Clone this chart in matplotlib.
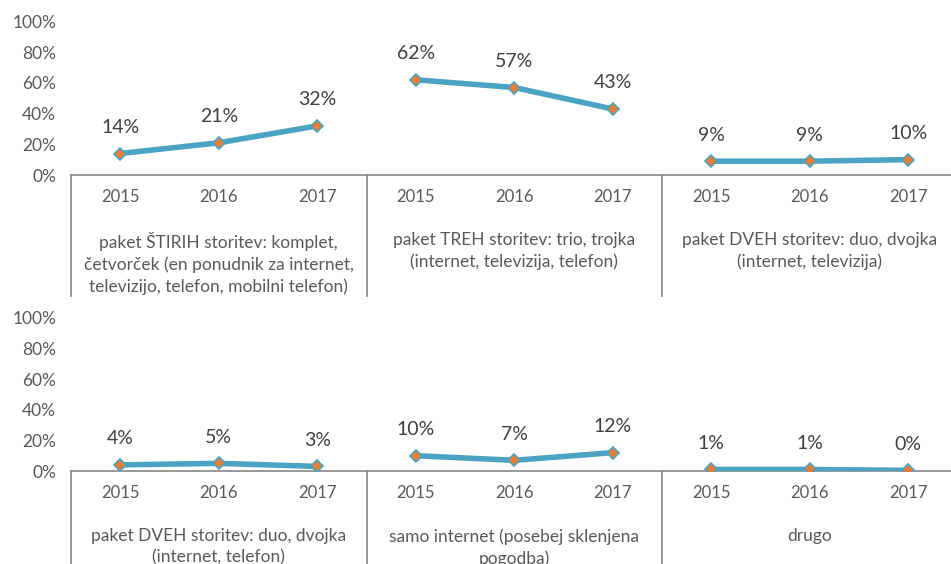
import matplotlib.pyplot as plt
from matplotlib.transforms import blended_transform_factory

# --- data ---
years = ["2015", "2016", "2017"]

top_groups = [
    "paket ŠTIRIH storitev: komplet,\nčetvorček (en ponudnik za internet,\ntelevizijo, telefon, mobilni telefon)",
    "paket TREH storitev: trio, trojka\n(internet, televizija, telefon)",
    "paket DVEH storitev: duo, dvojka\n(internet, televizija)",
]
top_values = [[14, 21, 32], [62, 57, 43], [9, 9, 10]]

bottom_groups = [
    "paket DVEH storitev: duo, dvojka\n(internet, telefon)",
    "samo internet (posebej sklenjena\npogodba)",
    "drugo",
]
bottom_values = [[4, 5, 3], [10, 7, 12], [1, 1, 0.4]]

y_ticks = [0, 20, 40, 60, 80, 100]

# --- style ---
FONT = "Lato"
TEXT_GRAY = "#595959"
LABEL_GRAY = "#404040"
AXIS_GRAY = "#868686"
LINE_BLUE = "#4BA3C3"
MARKER_ORANGE = "#ED7D31"

plt.rcParams["font.family"] = [FONT, "DejaVu Sans"]

W, H = 951, 564
fig = plt.figure(figsize=(W / 100, H / 100), dpi=100)

PX = 0.72  # points per pixel at 100 dpi
slot = 98.5


def draw_panel(ax, groups, values, divider_depth):
    for gi, vals in enumerate(values):
        xs = [gi * 3 + i for i in range(len(vals))]
        ax.plot(xs, vals, color=LINE_BLUE, linewidth=4.0, solid_capstyle="round",
                marker="D", markersize=6.5, markerfacecolor=MARKER_ORANGE,
                markeredgecolor=LINE_BLUE, markeredgewidth=1.2, zorder=3)
        for x, v in zip(xs, vals):
            ax.annotate(f"{round(v)}%", (x, v), xytext=(0, 26 * PX), textcoords="offset points",
                        ha="center", va="center", fontsize=14, color=LABEL_GRAY)
        for i, x in enumerate(xs):
            ax.annotate(years[i], (x, 0), xycoords=("data", "axes fraction"),
                        xytext=(0, -22 * PX), textcoords="offset points",
                        ha="center", va="center", fontsize=12, color=TEXT_GRAY,
                        annotation_clip=False)
        ax.annotate(groups[gi], (gi * 3 + 1, 0), xycoords=("data", "axes fraction"),
                    xytext=(0, -57 * PX), textcoords="offset points",
                    ha="center", va="top", fontsize=12.5, color=TEXT_GRAY,
                    linespacing=1.4, annotation_clip=False)

    # category dividers below the axis
    trans = blended_transform_factory(ax.transData, ax.transAxes)
    for d in [-0.5, 2.5, 5.5, 8.5]:
        ax.plot([d, d], [0, -divider_depth], color=AXIS_GRAY, linewidth=1.2,
                transform=trans, clip_on=False)

    ax.set_xlim(-0.5, 8.5)
    ax.set_ylim(0, 100)
    ax.set_yticks(y_ticks)
    ax.set_yticklabels([f"{t}%" for t in y_ticks])
    ax.set_xticks([])
    ax.tick_params(axis="y", length=0, pad=15 * PX, labelsize=12.5, labelcolor=TEXT_GRAY)
    for s in ["top", "right", "left"]:
        ax.spines[s].set_visible(False)
    ax.spines["bottom"].set_color(AXIS_GRAY)
    ax.spines["bottom"].set_linewidth(1.2)
    ax.patch.set_visible(False)


left = 71 / W
width = 9 * slot / W
ax_top = fig.add_axes([left, (H - 175) / H, width, 153.5 / H])
ax_bot = fig.add_axes([left, (H - 471) / H, width, 153 / H])

draw_panel(ax_top, top_groups, top_values, 121 / 153.5)
draw_panel(ax_bot, bottom_groups, bottom_values, 1.0)

fig.savefig("out.png", dpi=100)
